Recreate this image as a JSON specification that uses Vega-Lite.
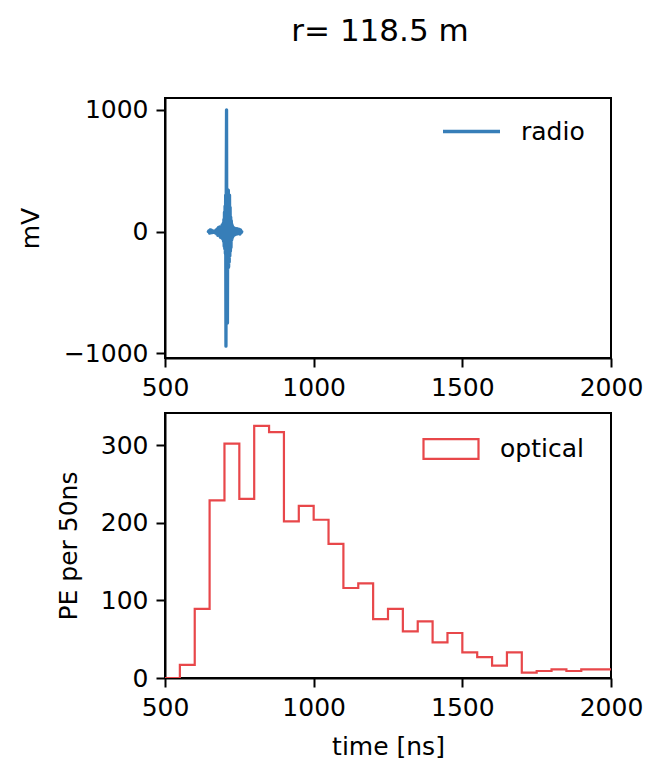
{
  "$schema": "https://vega.github.io/schema/vega-lite/v6.json",
  "padding": {"left": 17, "top": 15, "right": 10, "bottom": 10},
  "background": "white",
  "title": {"text": "r= 118.5 m", "fontSize": 31, "font": "DejaVu Sans", "fontWeight": "normal", "color": "black", "anchor": "middle", "frame": "group", "offset": 49, "dx": -8},
  "datasets": {
    "radio": [
      {"t": 646, "mv": 0, "series": "radio"},
      {"t": 648, "mv": 8, "series": "radio"},
      {"t": 650, "mv": -12, "series": "radio"},
      {"t": 652, "mv": 15, "series": "radio"},
      {"t": 654, "mv": -10, "series": "radio"},
      {"t": 656, "mv": 12, "series": "radio"},
      {"t": 658, "mv": -8, "series": "radio"},
      {"t": 660, "mv": 6, "series": "radio"},
      {"t": 662, "mv": -5, "series": "radio"},
      {"t": 664, "mv": 4, "series": "radio"},
      {"t": 666, "mv": -6, "series": "radio"},
      {"t": 668, "mv": 5, "series": "radio"},
      {"t": 670, "mv": -10, "series": "radio"},
      {"t": 672, "mv": 14, "series": "radio"},
      {"t": 674, "mv": -20, "series": "radio"},
      {"t": 676, "mv": 22, "series": "radio"},
      {"t": 678, "mv": -30, "series": "radio"},
      {"t": 680, "mv": 35, "series": "radio"},
      {"t": 682, "mv": -28, "series": "radio"},
      {"t": 684, "mv": 40, "series": "radio"},
      {"t": 686, "mv": -45, "series": "radio"},
      {"t": 688, "mv": 38, "series": "radio"},
      {"t": 690, "mv": -50, "series": "radio"},
      {"t": 692, "mv": 55, "series": "radio"},
      {"t": 694, "mv": -60, "series": "radio"},
      {"t": 696, "mv": 70, "series": "radio"},
      {"t": 697, "mv": -80, "series": "radio"},
      {"t": 698, "mv": 100, "series": "radio"},
      {"t": 699, "mv": -120, "series": "radio"},
      {"t": 700, "mv": 160, "series": "radio"},
      {"t": 701, "mv": -140, "series": "radio"},
      {"t": 702, "mv": 210, "series": "radio"},
      {"t": 703, "mv": -180, "series": "radio"},
      {"t": 704, "mv": 300, "series": "radio"},
      {"t": 705, "mv": -940, "series": "radio"},
      {"t": 706, "mv": 360, "series": "radio"},
      {"t": 707, "mv": 1000, "series": "radio"},
      {"t": 708, "mv": -560, "series": "radio"},
      {"t": 709, "mv": 350, "series": "radio"},
      {"t": 710, "mv": -750, "series": "radio"},
      {"t": 711, "mv": 280, "series": "radio"},
      {"t": 712, "mv": -300, "series": "radio"},
      {"t": 713, "mv": 340, "series": "radio"},
      {"t": 714, "mv": -290, "series": "radio"},
      {"t": 715, "mv": 260, "series": "radio"},
      {"t": 716, "mv": -250, "series": "radio"},
      {"t": 717, "mv": 300, "series": "radio"},
      {"t": 718, "mv": -200, "series": "radio"},
      {"t": 719, "mv": 200, "series": "radio"},
      {"t": 720, "mv": -160, "series": "radio"},
      {"t": 721, "mv": 120, "series": "radio"},
      {"t": 722, "mv": -130, "series": "radio"},
      {"t": 723, "mv": 90, "series": "radio"},
      {"t": 724, "mv": -70, "series": "radio"},
      {"t": 725, "mv": 60, "series": "radio"},
      {"t": 726, "mv": -55, "series": "radio"},
      {"t": 727, "mv": 45, "series": "radio"},
      {"t": 728, "mv": -40, "series": "radio"},
      {"t": 730, "mv": 35, "series": "radio"},
      {"t": 732, "mv": -30, "series": "radio"},
      {"t": 734, "mv": 28, "series": "radio"},
      {"t": 736, "mv": -25, "series": "radio"},
      {"t": 738, "mv": 22, "series": "radio"},
      {"t": 740, "mv": -20, "series": "radio"},
      {"t": 742, "mv": 25, "series": "radio"},
      {"t": 744, "mv": -18, "series": "radio"},
      {"t": 746, "mv": 20, "series": "radio"},
      {"t": 748, "mv": -15, "series": "radio"},
      {"t": 750, "mv": 18, "series": "radio"},
      {"t": 752, "mv": -20, "series": "radio"},
      {"t": 754, "mv": 15, "series": "radio"},
      {"t": 756, "mv": -10, "series": "radio"},
      {"t": 758, "mv": 0, "series": "radio"}
    ],
    "optical": [
      {"t": 500, "pe": 0, "series": "optical"},
      {"t": 550, "pe": 17, "series": "optical"},
      {"t": 600, "pe": 89, "series": "optical"},
      {"t": 650, "pe": 229, "series": "optical"},
      {"t": 700, "pe": 302, "series": "optical"},
      {"t": 750, "pe": 231, "series": "optical"},
      {"t": 800, "pe": 325, "series": "optical"},
      {"t": 850, "pe": 317, "series": "optical"},
      {"t": 900, "pe": 202, "series": "optical"},
      {"t": 950, "pe": 222, "series": "optical"},
      {"t": 1000, "pe": 204, "series": "optical"},
      {"t": 1050, "pe": 173, "series": "optical"},
      {"t": 1100, "pe": 116, "series": "optical"},
      {"t": 1150, "pe": 122, "series": "optical"},
      {"t": 1200, "pe": 76, "series": "optical"},
      {"t": 1250, "pe": 89, "series": "optical"},
      {"t": 1300, "pe": 60, "series": "optical"},
      {"t": 1350, "pe": 73, "series": "optical"},
      {"t": 1400, "pe": 46, "series": "optical"},
      {"t": 1450, "pe": 58, "series": "optical"},
      {"t": 1500, "pe": 33, "series": "optical"},
      {"t": 1550, "pe": 27, "series": "optical"},
      {"t": 1600, "pe": 16, "series": "optical"},
      {"t": 1650, "pe": 33, "series": "optical"},
      {"t": 1700, "pe": 7, "series": "optical"},
      {"t": 1750, "pe": 9, "series": "optical"},
      {"t": 1800, "pe": 11, "series": "optical"},
      {"t": 1850, "pe": 9, "series": "optical"},
      {"t": 1900, "pe": 11, "series": "optical"},
      {"t": 1950, "pe": 11, "series": "optical"},
      {"t": 2000, "pe": 11, "series": "optical"}
    ]
  },
  "bounds": "flush",
  "spacing": 55,
  "resolve": {"scale": {"color": "independent", "x": "independent", "y": "independent"}, "legend": {"color": "independent"}},
  "vconcat": [
    {
      "width": 446,
      "height": 260,
      "data": {"name": "radio"},
      "mark": {"type": "line", "strokeWidth": 3.3, "strokeJoin": "round", "strokeCap": "round", "clip": true},
      "encoding": {
        "x": {"field": "t", "type": "quantitative", "scale": {"domain": [500, 2000], "nice": false, "zero": false}, "axis": {"values": [500, 1000, 1500, 2000], "format": "d", "title": null}},
        "y": {"field": "mv", "type": "quantitative", "scale": {"domain": [-1037, 1097], "nice": false, "zero": false}, "axis": {"values": [-1000, 0, 1000], "format": "d", "title": "mV", "titlePadding": 20}},
        "color": {"field": "series", "type": "nominal", "scale": {"domain": ["radio"], "range": ["#377eb8"]},
          "legend": {"title": null, "orient": "none", "legendX": 276, "legendY": 3, "symbolType": "stroke", "symbolSize": 3249, "symbolStrokeWidth": 3.3, "labelFontSize": 25, "labelFont": "DejaVu Sans", "labelColor": "black", "labelOffset": 19, "padding": 0}}
      }
    },
    {
      "width": 446,
      "height": 265,
      "data": {"name": "optical"},
      "mark": {"type": "line", "interpolate": "step-after", "strokeWidth": 2.2, "clip": true},
      "encoding": {
        "x": {"field": "t", "type": "quantitative", "scale": {"domain": [500, 2000], "nice": false, "zero": false}, "axis": {"values": [500, 1000, 1500, 2000], "format": "d", "title": "time [ns]", "titlePadding": 14}},
        "y": {"field": "pe", "type": "quantitative", "scale": {"domain": [0, 341.6], "nice": false}, "axis": {"values": [0, 100, 200, 300], "format": "d", "title": "PE per 50ns", "titlePadding": 19}},
        "color": {"field": "series", "type": "nominal", "scale": {"domain": ["optical"], "range": ["#e8474a"]},
          "legend": {"title": null, "orient": "none", "legendX": 257, "legendY": 7, "symbolType": "M-1,-0.36H1V0.36H-1Z", "symbolSize": 3025, "symbolStrokeWidth": 2.2, "symbolFillColor": "transparent", "labelFontSize": 25, "labelFont": "DejaVu Sans", "labelColor": "black", "labelOffset": 20, "padding": 0}}
      }
    }
  ],
  "config": {
    "font": "DejaVu Sans",
    "view": {"stroke": "black", "strokeWidth": 2},
    "axis": {"grid": false, "domainColor": "black", "domainWidth": 2, "tickColor": "black", "tickWidth": 2, "tickSize": 9, "labelPadding": 8, "labelFontSize": 25, "labelColor": "black", "labelFont": "DejaVu Sans", "titleFontSize": 25, "titleFont": "DejaVu Sans", "titleFontWeight": "normal", "titleColor": "black", "labelFlush": false, "labelOverlap": false}
  }
}
